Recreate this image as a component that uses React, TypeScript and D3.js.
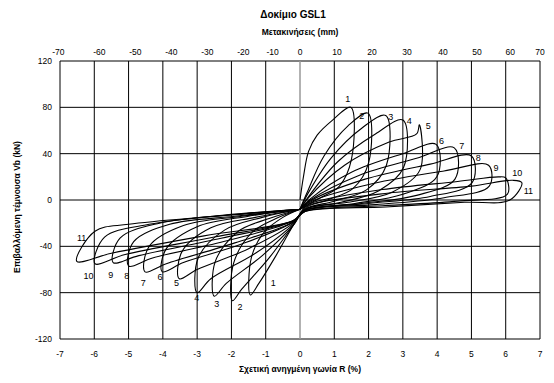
import React from 'react';
import * as d3 from 'd3';

// bottom axis: relative drift R (%), left axis: shear Vb (kN)
const rTicks = [-7, -6, -5, -4, -3, -2, -1, 0, 1, 2, 3, 4, 5, 6, 7];
const vTicks = [-120, -80, -40, 0, 40, 80, 120];

// top axis: displacement (mm) and where the original places each label, in R units
const mmTicks = [-70, -60, -50, -40, -30, -20, -10, 0, 10, 20, 30, 40, 50, 60, 70];
const mmAtR = [-7.05, -5.85, -4.8, -3.75, -2.7, -1.65, -0.8, 0, 1.08, 2.1, 3.12, 4.17, 5.16, 6.13, 7];

// hysteresis cycles, [R %, V kN]
const cycle1 = [[0, 0], [0.1, 20], [0.25, 42], [0.5, 56], [0.95, 69], [1.48, 80], [1.5, 35], [1.15, 12], [0.6, 2], [0.15, -6],
  [-0.2, -22], [-0.7, -48], [-1.2, -72], [-1.45, -82], [-1.42, -50], [-1.05, -28], [-0.5, -15], [0, -8]];
const cycle2 = [[0, -8], [0.2, 6], [0.7, 38], [1.4, 64], [1.98, 75], [2.0, 32], [1.55, 10], [0.8, 0], [0.15, -7],
  [-0.2, -22], [-0.9, -50], [-1.7, -77], [-1.97, -87], [-1.94, -55], [-1.4, -28], [-0.7, -16], [0, -8]];
const cycle3 = [[0, -8], [0.2, 4], [0.9, 36], [1.8, 62], [2.5, 73], [2.52, 30], [1.95, 9], [1.0, -1], [0.15, -8],
  [-0.2, -22], [-1.1, -48], [-2.15, -72], [-2.5, -83], [-2.47, -53], [-1.8, -27], [-0.9, -16], [0, -8]];
const cycle4 = [[0, -8], [0.25, 3], [1.1, 33], [2.2, 57], [3.0, 69], [3.02, 28], [2.3, 8], [1.2, -2], [0.15, -8],
  [-0.2, -21], [-1.3, -46], [-2.6, -68], [-3.0, -80], [-2.97, -50], [-2.2, -26], [-1.1, -15], [0, -8]];
const cycle5 = [[0, -8], [0.25, 2], [1.3, 30], [2.6, 50], [3.4, 57], [3.48, 65], [3.5, 26], [2.7, 7], [1.4, -2], [0.15, -8],
  [-0.2, -20], [-1.5, -42], [-3.0, -60], [-3.52, -68], [-3.45, -45], [-2.6, -24], [-1.3, -15], [0, -8]];
const cycle6 = [[0, -8], [0.3, 1], [1.5, 24], [3.0, 40], [3.97, 48], [3.99, 20], [3.0, 5], [1.6, -3], [0.15, -9],
  [-0.2, -19], [-1.7, -38], [-3.4, -54], [-4.02, -62], [-3.9, -42], [-3.0, -23], [-1.5, -14], [0, -8]];
const cycle7 = [[0, -8], [0.3, 0], [1.7, 21], [3.4, 36], [4.5, 45], [4.52, 18], [3.4, 4], [1.8, -3], [0.15, -9],
  [-0.2, -19], [-1.9, -37], [-3.9, -55], [-4.52, -62], [-4.4, -40], [-3.4, -22], [-1.7, -14], [0, -8]];
const cycle8 = [[0, -8], [0.35, 0], [1.9, 18], [3.8, 31], [5.0, 38], [5.02, 15], [3.8, 3], [2.0, -3], [0.15, -9],
  [-0.2, -18], [-2.1, -35], [-4.3, -50], [-5.0, -57], [-4.85, -36], [-3.8, -21], [-1.9, -14], [0, -8]];
const cycle9 = [[0, -8], [0.35, -1], [2.1, 14], [4.2, 25], [5.5, 30], [5.52, 12], [4.2, 2], [2.2, -4], [0.15, -9],
  [-0.2, -18], [-2.3, -33], [-4.7, -48], [-5.45, -54], [-5.25, -33], [-4.1, -20], [-2.0, -13], [0, -8]];
const cycle10 = [[0, -8], [0.4, -2], [2.4, 9], [4.6, 16], [5.8, 20], [6.0, 19], [6.05, 5], [4.6, -1], [2.4, -5], [0.15, -10],
  [-0.2, -18], [-2.5, -32], [-5.1, -47], [-5.98, -55], [-5.7, -32], [-4.4, -21], [-2.2, -13], [0, -8]];
const cycle11 = [[0, -8], [0.4, -3], [2.6, 6], [5.0, 12], [6.2, 17], [6.47, 15], [6.12, 0], [4.8, -2], [2.5, -6], [0.15, -10],
  [-0.2, -18], [-2.8, -31], [-5.5, -46], [-6.51, -53], [-5.98, -27], [-5.0, -21], [-2.5, -14], [0, -8]];

const cycles = [cycle1, cycle2, cycle3, cycle4, cycle5, cycle6, cycle7, cycle8, cycle9, cycle10, cycle11];

// cycle numbers written next to the peaks, [R %, V kN]
const posLabels = [[1.39, 88], [1.8, 73], [2.65, 72], [3.19, 69], [3.74, 64], [4.13, 51], [4.72, 47], [5.2, 37], [5.72, 28], [6.34, 24], [6.66, 8]];
const negLabels = [[-0.78, -71], [-1.75, -92], [-2.43, -89], [-3.01, -84], [-3.6, -71], [-4.08, -66], [-4.57, -71], [-5.05, -65], [-5.52, -64], [-6.17, -65], [-6.37, -32]];

const font = '"Liberation Sans", Arial, sans-serif';

export default function App() {
  const width = 554;
  const height = 383;
  const plot = { left: 60, right: 540, top: 61, bottom: 339 };

  const x = d3.scaleLinear().domain([-7, 7]).range([plot.left, plot.right]);
  const y = d3.scaleLinear().domain([-120, 120]).range([plot.bottom, plot.top]);
  const xTop = d3.scaleLinear().domain(mmTicks).range(mmAtR.map(r => x(r)));

  const line = d3.line<number[]>()
    .x(d => x(d[0]))
    .y(d => y(d[1]))
    .curve(d3.curveCatmullRom.alpha(0.5));

  return (
    <svg width={width} height={height} style={{ position: 'absolute', left: 0, top: 0, background: '#fff' }} fontFamily={font}>
      <text x={293} y={18} textAnchor="middle" fontSize={10} fontWeight="bold">Δοκίμιο GSL1</text>
      <text x={300} y={35} textAnchor="middle" fontSize={8.5} fontWeight="bold">Μετακινήσεις (mm)</text>

      {/* grid */}
      {vTicks.map(v => (
        <line key={'h' + v} x1={plot.left} x2={plot.right} y1={y(v)} y2={y(v)} stroke="#000" strokeWidth={1} />
      ))}
      {rTicks.map(r => (
        <line key={'v' + r} x1={x(r)} x2={x(r)} y1={plot.top} y2={plot.bottom}
          stroke={r === 0 ? '#999' : '#000'} strokeWidth={r === 0 ? 1.5 : 1} />
      ))}

      {/* cycles */}
      {cycles.map((c, i) => (
        <path key={'c' + i} d={line(c) || ''} fill="none" stroke="#000" strokeWidth={1.1} strokeLinejoin="round" />
      ))}

      {posLabels.map((p, i) => (
        <text key={'pl' + i} x={x(p[0])} y={y(p[1]) + 3.5} textAnchor="middle" fontSize={9}>{i + 1}</text>
      ))}
      {negLabels.map((p, i) => (
        <text key={'nl' + i} x={x(p[0])} y={y(p[1]) + 3.5} textAnchor="middle" fontSize={9}>{i + 1}</text>
      ))}

      {/* axes labels */}
      {rTicks.map(r => (
        <text key={'rt' + r} x={x(r)} y={357} textAnchor="middle" fontSize={8.5}>{r}</text>
      ))}
      {mmTicks.map(m => (
        <text key={'mt' + m} x={xTop(m)} y={55} textAnchor="middle" fontSize={8.5}>{m}</text>
      ))}
      {vTicks.map(v => (
        <text key={'vt' + v} x={52} y={y(v) + 3} textAnchor="end" fontSize={8.5}>{v}</text>
      ))}

      <text x={300} y={372} textAnchor="middle" fontSize={8.5} fontWeight="bold">Σχετική ανηγμένη γωνία R (%)</text>
      <text transform={`translate(20,207) rotate(-90)`} textAnchor="middle" fontSize={8.5} fontWeight="bold">
        Επιβαλλόμενη τέμνουσα Vb (kN)
      </text>
    </svg>
  );
}
